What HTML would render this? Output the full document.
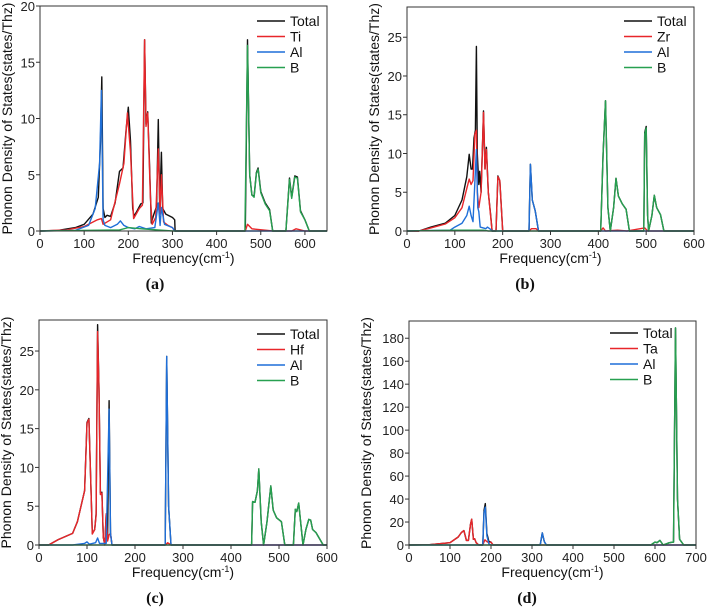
<!DOCTYPE html>
<html><head><meta charset="utf-8">
<style>
body{margin:0;background:#fff;}
svg{display:block;font-family:"Liberation Sans",sans-serif;}
.tk{font-size:13px;fill:#222;}
.lg{font-size:14px;fill:#111;}
.at{font-size:14px;fill:#111;}
.pl{font-family:"Liberation Serif",serif;font-weight:bold;font-size:16px;fill:#111;}
</style></head>
<body>
<svg id="fig" width="708" height="611" viewBox="0 0 708 611"></svg>
<script>
// ---- data (frequency, DOS) ----
const aTotal=[[0,0],[40,0.05],[80,0.3],[100,0.6],[120,1.5],[132,3],[137,8],[140,13.7],[143,2],[147,1.2],[152,1.4],[160,1.3],[170,2.5],[180,5.3],[188,5.6],[195,9],[200,11],[205,8],[210,2],[213,1.3],[220,1.8],[228,2.4],[233,2.5],[237,17],[240,9.5],[244,10.6],[248,6],[252,0.7],[258,1.5],[264,2.2],[268,9.9],[271,2],[275,7],[278,2],[285,1.5],[300,1.2],[305,1],[306,0],[465,0],[470,17],[475,5],[480,3.2],[485,3.1],[490,5.2],[494,5.6],[500,3.5],[510,2.5],[520,1.9],[527,0],[557,0],[565,4.7],[570,3],[577,4.9],[583,4.8],[590,1.8],[600,1],[610,0],[650,0]];
const aTi=[[0,0],[60,0.1],[100,0.4],[130,1],[139,1.1],[143,0.6],[160,1],[180,4.2],[190,6],[198,10.5],[205,7],[212,1.1],[225,2],[232,2.3],[237,17],[240,9.3],[244,10.5],[250,3],[254,0.6],[262,1.2],[268,7.3],[272,1.5],[275,5],[280,0.8],[290,0.5],[300,0.3],[305,0],[465,0],[470,0.6],[480,0.2],[527,0],[570,0],[580,0.2],[600,0],[650,0]];
const aAl=[[0,0],[80,0.05],[110,0.5],[125,2],[135,6],[139,12.5],[143,1],[147,0.5],[160,0.3],[175,0.6],[182,0.9],[190,0.5],[200,0.3],[215,0.2],[225,0.4],[240,0.2],[260,0.3],[268,2.5],[272,0.5],[275,2.1],[282,0.6],[300,0.3],[305,0],[650,0]];
const aB=[[0,0],[180,0.1],[200,0.3],[230,0.2],[300,0],[464,0],[470,16.5],[475,5],[480,3.2],[485,3],[490,5.1],[494,5.5],[500,3.4],[510,2.4],[520,1.8],[527,0],[557,0],[565,4.6],[570,2.9],[577,4.8],[583,4.7],[590,1.7],[600,1],[610,0],[650,0]];

const bTotal=[[0,0],[25,0],[50,0.5],[80,1],[100,2],[115,4],[125,7],[130,9.9],[134,8],[137,8],[140,12],[143,13],[145,23.8],[147,10],[150,6],[152,7.7],[155,5],[160,15.5],[163,8],[166,10.8],[170,5],[175,2],[178,0],[186,0],[190,7.1],[194,6.5],[200,0],[255,0],[258,8.6],[262,4],[268,2.6],[275,0],[405,0],[410,10],[415,16.8],[420,3],[425,0],[432,3],[437,6.8],[442,4.5],[450,3.5],[458,2.8],[465,0],[495,0],[497,12.7],[500,13.5],[503,2],[505,0],[512,2],[517,4.6],[522,3],[530,2.1],[537,0],[600,0]];
const bZr=[[0,0],[25,0],[50,0.4],[80,0.9],[100,1.7],[115,3],[125,5.5],[130,6.7],[134,6],[138,6.5],[142,12.5],[145,13],[147,5],[150,3],[155,5],[160,15.3],[163,8],[166,10.5],[170,5],[178,0],[186,0],[190,7],[194,6.5],[200,0],[255,0],[260,0.3],[270,0.3],[275,0],[405,0],[410,0.4],[415,0],[440,0.1],[460,0],[497,0.4],[503,0],[600,0]];
const bAl=[[0,0],[90,0.1],[100,0.5],[115,1],[125,2],[130,3.2],[134,2],[138,1.2],[141,5],[145,10.5],[148,3],[150,2.5],[153,0.5],[165,0.3],[168,0.5],[175,0.2],[178,0],[255,0],[258,8.6],[262,4],[268,2.6],[275,0],[600,0]];
const bB=[[0,0],[100,0.1],[160,0.1],[170,0],[405,0],[410,10],[415,16.8],[420,3],[425,0],[432,3],[437,6.8],[442,4.5],[450,3.5],[458,2.8],[465,0],[495,0],[497,12.5],[500,13.3],[503,2],[505,0],[512,2],[517,4.6],[522,3],[530,2.1],[537,0],[600,0]];

const cTotal=[[0,0],[20,0],[40,0.7],[70,1.5],[80,3],[95,7],[100,15.8],[104,16.3],[108,8],[111,1.5],[116,2],[119,4],[122,28.4],[125,20],[128,6.7],[131,6.8],[134,1],[137,0],[140,4],[143,1],[146,18.6],[149,1.5],[152,0],[263,0],[266,24.3],[270,5],[275,0],[443,0],[445,5.6],[450,5.5],[455,7],[458,9.8],[463,3],[468,0],[475,3],[483,7.6],[488,4.5],[495,3.5],[505,3],[512,0],[530,0],[534,4.6],[537,4.3],[541,5.4],[545,3],[550,0],[556,2],[562,3.3],[566,3.2],[570,2],[577,1.6],[592,0],[600,0]];
const cHf=[[0,0],[20,0],[40,0.7],[70,1.5],[80,3],[95,7],[100,15.7],[104,16.2],[108,8],[111,1.4],[116,2],[119,3.8],[122,27.5],[125,20],[128,6.5],[131,6.7],[134,1],[137,0],[140,4],[143,0.5],[146,1.3],[149,1.5],[152,0],[263,0],[268,0.3],[275,0],[600,0]];
const cAl=[[0,0],[70,0],[95,0.2],[100,0.4],[105,0.1],[118,0.3],[122,0.9],[126,0.2],[140,0.2],[146,17.5],[149,1.5],[152,0],[263,0],[266,24.3],[270,5],[275,0],[600,0]];
const cB=[[0,0],[443,0],[445,5.6],[450,5.5],[455,7],[458,9.8],[463,3],[468,0],[475,3],[483,7.6],[488,4.5],[495,3.5],[505,3],[512,0],[530,0],[534,4.6],[537,4.3],[541,5.4],[545,3],[550,0],[556,2],[562,3.3],[566,3.2],[570,2],[577,1.6],[592,0],[600,0]];

const dTotal=[[0,0],[50,0.3],[100,2],[120,7],[128,11],[134,12.5],[140,4],[145,4],[150,18],[153,22.5],[157,5],[160,5.5],[164,2],[170,0],[180,0],[183,30],[186,36],[190,10],[195,3],[200,2.5],[205,0],[320,0],[325,10.5],[330,3],[335,0],[590,0],[600,2.5],[605,2],[612,4],[620,0],[635,2],[645,2.5],[650,189],[655,40],[660,5],[670,0],[700,0]];
const dTa=[[0,0],[50,0.3],[100,2],[120,7],[128,11],[134,12.5],[140,4],[145,4],[150,18],[153,22.5],[157,5],[160,5.5],[164,2],[170,0],[180,0],[185,4.5],[190,3],[195,2],[200,2.5],[205,0],[700,0]];
const dAl=[[0,0],[180,0],[183,28],[186,33],[190,8],[195,1],[200,0],[320,0],[325,10.5],[330,3],[335,0],[700,0]];
const dB=[[0,0],[590,0],[600,2.5],[605,2],[612,4],[620,0],[635,2],[645,2.5],[650,189],[655,40],[660,5],[670,0],[700,0]];

const aXTicks=[0,100,200,300,400,500,600]; const aYTicks=[0,5,10,15,20];
const bXTicks=[0,100,200,300,400,500,600]; const bYTicks=[0,5,10,15,20,25];
const cXTicks=[0,100,200,300,400,500,600]; const cYTicks=[0,5,10,15,20,25];
const dXTicks=[0,100,200,300,400,500,600,700]; const dYTicks=[0,20,40,60,80,100,120,140,160,180];

const panels=[
 {id:'a',box:[40,6,327,231],xmax:650,ymax:20,xt:aXTicks,yt:aYTicks,metal:'Ti',s:[aTotal,aTi,aAl,aB],leg:[257,21],lab:[155,289]},
 {id:'b',box:[407,7,694,231],xmax:600,ymax:28.9,xt:bXTicks,yt:bYTicks,metal:'Zr',s:[bTotal,bZr,bAl,bB],leg:[624,21],lab:[525,289]},
 {id:'c',box:[39,320,327,545],xmax:600,ymax:29,xt:cXTicks,yt:cYTicks,metal:'Hf',s:[cTotal,cHf,cAl,cB],leg:[257,334],lab:[155,603]},
 {id:'d',box:[409,321,696,545],xmax:700,ymax:195,xt:dXTicks,yt:dYTicks,metal:'Ta',s:[dTotal,dTa,dAl,dB],leg:[610,333],lab:[527,603]}
];
const colors=['#111','#e8262a','#1f6fd8','#27a050'];
const NS='http://www.w3.org/2000/svg';
const svg=document.getElementById('fig');
function mk(tag,attrs,parent,text){const e=document.createElementNS(NS,tag);for(const k in attrs)e.setAttribute(k,attrs[k]);if(text!==undefined)e.textContent=text;(parent||svg).appendChild(e);return e;}

panels.forEach(p=>{
 const [x0,y0,x1,y1]=p.box;
 const X=v=>x0+v/p.xmax*(x1-x0);
 const Y=v=>y1-v/p.ymax*(y1-y0);
 const g=mk('g',{});
 
 
 const names=['total',p.metal.toLowerCase(),'al','b'];
 p.s.forEach((ser,i)=>{
  const d=ser.map((pt,j)=>(j?'L':'M')+X(pt[0]).toFixed(1)+' '+Y(pt[1]).toFixed(1)).join(' ');
  const path=mk('path',{d:d,fill:'none',stroke:colors[i],'stroke-width':1.4,'stroke-linejoin':'round'},g);
  
  
 });
 const fr=mk('rect',{x:x0,y:y0,width:x1-x0,height:y1-y0,fill:'none',stroke:'#333','stroke-width':1},g);
 
 
 p.xt.forEach(v=>{
  mk('line',{x1:X(v),x2:X(v),y1:y1,y2:y1+4,stroke:'#333'},g);
  const t=mk('text',{x:X(v),y:y1+17,'text-anchor':'middle',class:'tk'},g,v);
  
  
 });
 p.yt.forEach(v=>{
  mk('line',{x1:x0-4,x2:x0,y1:Y(v),y2:Y(v),stroke:'#333'},g);
  const t=mk('text',{x:x0-5,y:Y(v)+5,'text-anchor':'end',class:'tk'},g,v);
  
  
 });
 const xt=mk('text',{x:(x0+x1)/2,y:y1+32,'text-anchor':'middle',class:'at'},g);
 
 
 xt.innerHTML='Frequency(cm<tspan dy="-5" font-size="9">-1</tspan><tspan dy="5">)</tspan>';
 const ycx=x0-(p.id==='d'?38:28);
 const yt=mk('text',{x:ycx,y:(y0+y1)/2,'text-anchor':'middle',class:'at',transform:'rotate(-90 '+ycx+' '+(y0+y1)/2+')'},g,'Phonon Density of States(states/Thz)');
 
 
 const labels=['Total',p.metal,'Al','B'];
 labels.forEach((l,i)=>{
  const yy=p.leg[1]+i*15.5;
  const le=mk('g',{},g);
  
  
  mk('line',{x1:p.leg[0],x2:p.leg[0]+28,y1:yy,y2:yy,stroke:colors[i],'stroke-width':1.6},le);
  mk('text',{x:p.leg[0]+33,y:yy+5,class:'lg'},le,l);
 });
 const pl=mk('text',{x:p.lab[0],y:p.lab[1],'text-anchor':'middle',class:'pl'},g,'('+p.id+')');
 
 
});
</script>
</body></html>
